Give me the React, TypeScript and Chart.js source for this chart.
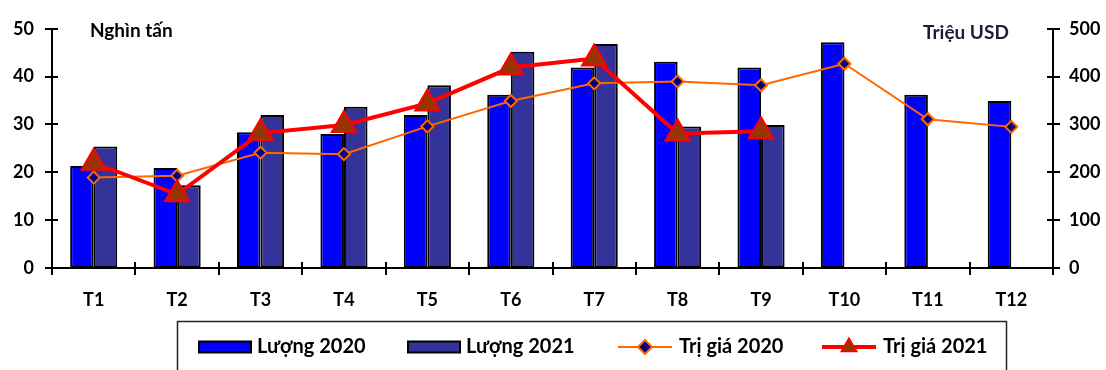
import { useEffect, useRef } from "react";
import { Chart, registerables } from "chart.js";

Chart.register(...registerables);

// Months of the year
const months = ["T1", "T2", "T3", "T4", "T5", "T6", "T7", "T8", "T9", "T10", "T11", "T12"];

// Volume (thousand tonnes)
const volume2020 = [21.3, 20.9, 28.4, 28.0, 32.0, 36.2, 41.9, 43.1, 41.9, 47.2, 36.2, 34.9];
const volume2021 = [25.4, 17.3, 32.0, 33.7, 38.2, 45.2, 46.8, 29.6, 29.9, null, null, null];

// Value (million USD)
const value2020 = [189, 193, 241, 238, 296, 349, 386, 390, 382, 427, 311, 295];
const value2021 = [220, 154, 282, 299, 344, 419, 438, 281, 286, null, null, null];

// Axis ranges
const volumeMax = 50;
const volumeStep = 10;
const valueMax = 500;
const valueStep = 100;

// Axis unit captions and series names
const volumeUnit = "Nghìn tấn";
const valueUnit = "Triệu USD";
const seriesNames = ["Lượng 2020", "Lượng 2021", "Trị giá 2020", "Trị giá 2021"];

const FONT = "Lato, 'Open Sans', sans-serif";
const BLUE = "#0000FF";
const NAVY = "#333399";
const ORANGE = "#FF6600";
const RED = "#FF0000";

const overlay = {
  id: "overlay",
  afterDraw(chart: any) {
    const { ctx, chartArea } = chart;
    const { left, right, bottom } = chartArea;
    ctx.save();
    ctx.strokeStyle = "#000";
    ctx.lineWidth = 2;

    // Cross tick marks on both value axes
    const yL = chart.scales.y;
    const yR = chart.scales.y1;
    ctx.beginPath();
    yL.ticks.forEach((_t: any, i: number) => {
      const p = Math.round(yL.getPixelForTick(i));
      ctx.moveTo(left - 7, p);
      ctx.lineTo(left + 6, p);
    });
    yR.ticks.forEach((_t: any, i: number) => {
      const p = Math.round(yR.getPixelForTick(i));
      ctx.moveTo(right - 6, p);
      ctx.lineTo(right + 7, p);
    });
    // Category boundary ticks on the month axis
    const n = months.length;
    for (let i = 0; i <= n; i++) {
      const x = Math.round(left + ((right - left) * i) / n);
      ctx.moveTo(x, bottom - 6);
      ctx.lineTo(x, bottom + 7);
    }
    ctx.stroke();

    // Unit captions
    ctx.textBaseline = "middle";
    ctx.textAlign = "left";
    ctx.fillStyle = "#000";
    ctx.font = `bold 19px ${FONT}`;
    ctx.fillText(volumeUnit, 90, 31);
    ctx.fillStyle = "#1c1c38";
    ctx.font = `bold 19px ${FONT}`;
    ctx.fillText(valueUnit, 923, 33);

    // Legend frame
    ctx.strokeStyle = "#222";
    ctx.lineWidth = 1.5;
    ctx.strokeRect(177.5, 321.5, 829, 80);

    const cy = 347;
    const starts = [199, 408, 618, 822];
    ctx.font = `bold 20px ${FONT}`;
    ctx.textBaseline = "middle";
    seriesNames.forEach((name, i) => {
      const x0 = starts[i];
      let tx: number;
      if (i < 2) {
        ctx.fillStyle = i === 0 ? BLUE : NAVY;
        ctx.fillRect(x0, cy - 5.5, 52, 11);
        ctx.strokeStyle = "#000";
        ctx.lineWidth = 2;
        ctx.strokeRect(x0, cy - 5.5, 52, 11);
        tx = x0 + 58;
      } else {
        const lw = i === 2 ? 2 : 4;
        ctx.strokeStyle = i === 2 ? ORANGE : RED;
        ctx.lineWidth = lw;
        ctx.beginPath();
        ctx.moveTo(x0, cy);
        ctx.lineTo(x0 + 54, cy);
        ctx.stroke();
        const mx = x0 + 27;
        ctx.beginPath();
        if (i === 2) {
          const r = 7;
          ctx.moveTo(mx, cy - r);
          ctx.lineTo(mx + r, cy);
          ctx.lineTo(mx, cy + r);
          ctx.lineTo(mx - r, cy);
          ctx.closePath();
          ctx.fillStyle = "#000080";
          ctx.fill();
          ctx.lineWidth = 2;
          ctx.strokeStyle = ORANGE;
          ctx.stroke();
        } else {
          const r = 9;
          ctx.moveTo(mx, cy - r);
          ctx.lineTo(mx + r * 0.866, cy + r / 2);
          ctx.lineTo(mx - r * 0.866, cy + r / 2);
          ctx.closePath();
          ctx.fillStyle = "#993300";
          ctx.fill();
          ctx.lineWidth = 1.5;
          ctx.strokeStyle = RED;
          ctx.stroke();
        }
        tx = x0 + 61;
      }
      ctx.fillStyle = "#000";
      ctx.fillText(name, tx, cy);
    });
    ctx.restore();
  },
};

export default function App() {
  const ref = useRef<HTMLCanvasElement>(null);

  useEffect(() => {
    if (!ref.current) return;
    const tickFont = { family: FONT, size: 18, weight: "bold" as const };
    const chart = new Chart(ref.current, {
      type: "bar",
      data: {
        labels: months,
        datasets: [
          {
            type: "line",
            label: seriesNames[3],
            data: value2021,
            yAxisID: "y1",
            borderColor: RED,
            borderWidth: 4,
            pointStyle: "triangle",
            pointRadius: 14,
            pointBackgroundColor: "#993300",
            pointBorderColor: RED,
            pointBorderWidth: 2,
            spanGaps: false,
            order: 0,
          } as any,
          {
            type: "line",
            label: seriesNames[2],
            data: value2020,
            yAxisID: "y1",
            borderColor: ORANGE,
            borderWidth: 2,
            pointStyle: "rectRot",
            pointRadius: 6,
            pointBackgroundColor: "#000080",
            pointBorderColor: ORANGE,
            pointBorderWidth: 2,
            order: 1,
          } as any,
          {
            label: seriesNames[0],
            data: volume2020,
            yAxisID: "y",
            backgroundColor: BLUE,
            borderColor: "#000",
            borderWidth: 2,
            borderSkipped: false,
            categoryPercentage: 0.565,
            barPercentage: 1,
            order: 2,
          },
          {
            label: seriesNames[1],
            data: volume2021,
            yAxisID: "y",
            backgroundColor: NAVY,
            borderColor: "#000",
            borderWidth: 2,
            borderSkipped: false,
            categoryPercentage: 0.565,
            barPercentage: 1,
            order: 3,
          },
        ],
      },
      options: {
        responsive: false,
        animation: false,
        devicePixelRatio: 1,
        layout: { padding: { top: 24, left: 0, right: 0, bottom: 0 } },
        plugins: {
          legend: { display: false },
          tooltip: { enabled: false },
        },
        scales: {
          x: {
            grid: { display: false, offset: true, drawTicks: false },
            border: { display: true, color: "#000", width: 2 },
            ticks: { color: "#000", font: tickFont, padding: 21, maxRotation: 0 },
            afterFit: (s: any) => {
              s.height = 102;
            },
          },
          y: {
            position: "left",
            min: 0,
            max: volumeMax,
            grid: { display: false, drawTicks: false },
            border: { display: true, color: "#000", width: 2 },
            ticks: { stepSize: volumeStep, color: "#000", font: tickFont, padding: 18 },
            afterFit: (s: any) => {
              s.width = 52;
            },
          },
          y1: {
            position: "right",
            min: 0,
            max: valueMax,
            grid: { display: false, drawTicks: false },
            border: { display: true, color: "#000", width: 2 },
            ticks: { stepSize: valueStep, color: "#000", font: tickFont, padding: 16 },
            afterFit: (s: any) => {
              s.width = 53;
            },
          },
        },
      },
      plugins: [overlay],
    });
    return () => chart.destroy();
  }, []);

  return (
    <div style={{ position: "absolute", left: 0, top: 0, width: 1106, height: 370, background: "#fff" }}>
      <canvas ref={ref} width={1106} height={370} />
    </div>
  );
}
